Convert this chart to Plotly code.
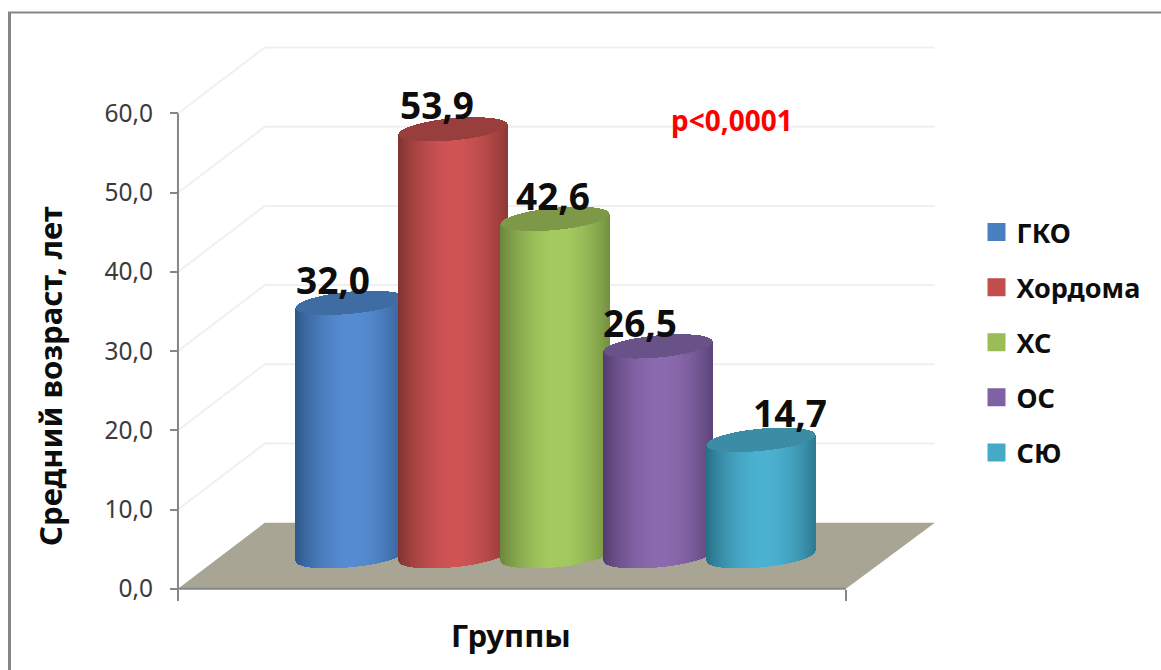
import numpy as np
import plotly.graph_objects as go

# Chart content
groups = ["ГКО", "Хордома", "ХС", "ОС", "СЮ"]
mean_age = [32.0, 53.9, 42.6, 26.5, 14.7]
y_ticks = [0, 10, 20, 30, 40, 50, 60]

# Cylinder shading: edge, centre, lid
edge_rgb = [(46, 88, 138), (130, 52, 50), (108, 135, 60), (84, 62, 112), (42, 112, 135)]
mid_rgb = [(86, 140, 210), (208, 84, 84), (165, 203, 96), (140, 106, 175), (76, 178, 210)]
lid_rgb = [(62, 108, 163), (152, 62, 60), (125, 152, 70), (104, 82, 135), (60, 140, 165)]
legend_colors = ["#4a7fc0", "#c24e4c", "#9cbc58", "#7f62a4", "#44aac6"]

# Axis mapping for a canvas-wide plot area
W, H = 1161, 670
x_range = [-3.406, 7.893]
y_range = [-10.265, 74.33]
axis_left, axis_right = -1.674, 4.827
depth_x, depth_y = 0.845, 8.33
back_right = axis_right + 0.865

# Cylinder geometry in axis units
half_w = 0.525
lid_b = 1.4
lid_tilt = 0.63
floor_level = 4.1
slices = 108

AXIS = "#868686"
GRID = "#f0f0f0"
FLOOR = "#a9a594"
FONT = "Noto Sans"

u = np.linspace(-1, 1, slices)
arc = np.sqrt(np.clip(1 - u**2, 0, 1))


def shade(edge, mid):
    # Bright band just right of centre, falling off towards both sides
    t = np.clip(np.abs(u - 0.05) / 1.05, 0, 1) ** 1.9
    return [
        "rgb(%d,%d,%d)" % tuple(mid[c] + (edge[c] - mid[c]) * k for c in range(3))
        for k in t
    ]


fig = go.Figure()
for i, (name, v) in enumerate(zip(groups, mean_age)):
    xs = i + half_w * u
    lower = lid_tilt * u - lid_b * arc
    width = 2.4 * half_w / slices
    fig.add_trace(go.Bar(
        x=xs, y=[v] * slices, base=floor_level + lower, width=width,
        marker=dict(color=shade(edge_rgb[i], mid_rgb[i]), line=dict(width=0)),
        showlegend=False, hoverinfo="skip",
    ))
    fig.add_trace(go.Bar(
        x=xs, y=2 * lid_b * arc, base=floor_level + v + lower, width=width,
        marker=dict(color="rgb(%d,%d,%d)" % lid_rgb[i], line=dict(width=0)),
        showlegend=False, hoverinfo="skip",
    ))

for name, color in zip(groups, legend_colors):
    fig.add_trace(go.Scatter(
        x=[None], y=[None], mode="markers", name=name, legendgroup=name,
        marker=dict(symbol="square", size=16, color=color,
                    line=dict(width=2, color=color)),
    ))

# Floor, back wall and side wall grid lines, front axis lines
shapes = [dict(
    type="path", layer="below", xref="x", yref="y", line=dict(width=0), fillcolor=FLOOR,
    path=f"M{axis_left},0 L{axis_right},0 L{back_right},{depth_y} "
         f"L{axis_left + depth_x},{depth_y} Z",
)]
for t in y_ticks[1:]:
    shapes.append(dict(
        type="path", layer="below", xref="x", yref="y",
        line=dict(color=GRID, width=2),
        path=f"M{axis_left},{t} L{axis_left + depth_x},{t + depth_y} "
             f"L{back_right},{t + depth_y}",
    ))
shapes += [
    dict(type="line", layer="below", xref="x", yref="y", x0=axis_left, x1=axis_left,
         y0=y_ticks[0], y1=y_ticks[-1], line=dict(color=AXIS, width=2)),
    dict(type="line", layer="below", xref="x", yref="y", x0=axis_left, x1=axis_right,
         y0=0, y1=0, line=dict(color=AXIS, width=2)),
    # Picture frame along the left and top edges
    dict(type="line", xref="paper", yref="paper", x0=9.5 / W, x1=9.5 / W,
         y0=0, y1=1 - 12 / H, line=dict(color="#858585", width=3)),
    dict(type="line", xref="paper", yref="paper", x0=8 / W, x1=1,
         y0=1 - 12.5 / H, y1=1 - 12.5 / H, line=dict(color="#858585", width=2)),
]

# Value labels sit over the lids, each nudged sideways as in the layout
label_dx = [-17, -16, -2, -18, 29]
label_dy = [23, 25, 23, 24, 27]
annotations = [
    dict(x=i, y=floor_level + v, text=f"{v:.1f}".replace(".", ","), showarrow=False,
         xshift=label_dx[i], yshift=label_dy[i], xanchor="center", yanchor="middle",
         font=dict(family=FONT, size=37, color="#0d0d0d", weight="bold"))
    for i, v in enumerate(mean_age)
]
annotations += [
    dict(xref="paper", yref="paper", x=732 / W, y=1 - 120 / H, text="p<0,0001",
         xanchor="center", yanchor="middle", showarrow=False,
         font=dict(family=FONT, size=28, color="#ff0000", weight="bold")),
    dict(xref="paper", yref="paper", x=511 / W, y=1 - 635 / H, text="Группы",
         xanchor="center", yanchor="middle", showarrow=False,
         font=dict(family=FONT, size=31, color="#0d0d0d", weight="bold")),
    dict(xref="paper", yref="paper", x=50 / W, y=1 - 376 / H, text="Средний возраст, лет",
         xanchor="center", yanchor="middle", textangle=-90, showarrow=False,
         font=dict(family=FONT, size=31, color="#0d0d0d", weight="bold")),
]

fig.update_layout(
    width=W, height=H, margin=dict(l=0, r=0, t=0, b=0),
    paper_bgcolor="white", plot_bgcolor="white",
    barmode="overlay", bargap=0, separators=", ",
    shapes=shapes, annotations=annotations,
    font=dict(family=FONT),
    legend=dict(
        x=976.5 / W, y=1 - 208 / H, xanchor="left", yanchor="top",
        traceorder="grouped", tracegroupgap=17, bgcolor="rgba(0,0,0,0)",
        font=dict(family=FONT, size=27, color="#0d0d0d", weight="bold"),
    ),
    xaxis=dict(
        range=x_range, domain=[0, 1], anchor="free", position=(H - 588.7) / H,
        showgrid=False, zeroline=False, showline=False, showticklabels=False,
        tickmode="array", tickvals=[axis_left, axis_right],
        ticks="outside", ticklen=11, tickwidth=2, tickcolor=AXIS,
    ),
    yaxis=dict(
        range=y_range, domain=[0, 1], anchor="free", position=178 / W,
        showgrid=False, zeroline=False, showline=False,
        tickmode="array", tickvals=y_ticks, tickformat=".1f",
        ticks="outside", ticklen=8, tickwidth=2, tickcolor=AXIS, ticklabelstandoff=12,
        tickfont=dict(family=FONT, size=24.5, color="#3b3b3b"),
    ),
)

fig.write_html("out.html")
